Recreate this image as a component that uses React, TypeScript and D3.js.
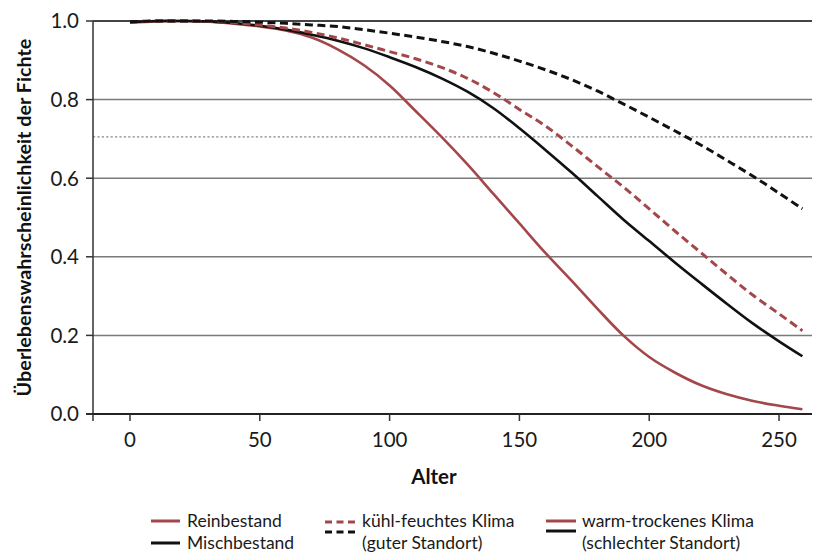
import React from "react";
import * as d3 from "d3";

const ages = [0, 10, 20, 30, 40, 50, 60, 70, 80, 90, 100, 110, 120, 130, 140, 150, 160, 170, 180, 190, 200, 210, 220, 230, 240, 250, 259];

// Reinbestand, warm-trockenes Klima (red solid)
const reinWarm = [0.996, 0.999, 1.0, 0.998, 0.993, 0.986, 0.976, 0.958, 0.928, 0.888, 0.836, 0.771, 0.705, 0.635, 0.56, 0.485, 0.41, 0.34, 0.268, 0.2, 0.145, 0.105, 0.073, 0.05, 0.033, 0.021, 0.012];
// Mischbestand, warm-trockenes Klima (black solid)
const mischWarm = [0.997, 1.0, 1.0, 0.999, 0.995, 0.988, 0.978, 0.965, 0.95, 0.931, 0.908, 0.883, 0.854, 0.82, 0.778, 0.727, 0.672, 0.615, 0.555, 0.495, 0.44, 0.385, 0.332, 0.28, 0.23, 0.185, 0.147];
// Reinbestand, kühl-feuchtes Klima (red dashed)
const reinKuehl = [0.997, 1.0, 1.0, 0.999, 0.996, 0.99, 0.982, 0.971, 0.957, 0.94, 0.922, 0.904, 0.882, 0.854, 0.818, 0.775, 0.733, 0.683, 0.63, 0.578, 0.522, 0.465, 0.41, 0.355, 0.302, 0.255, 0.212];
// Mischbestand, kühl-feuchtes Klima (black dashed)
const mischKuehl = [0.998, 1.0, 1.0, 1.0, 0.999, 0.997, 0.994, 0.99, 0.986, 0.978, 0.969, 0.959, 0.948, 0.935, 0.918, 0.898, 0.876, 0.851, 0.822, 0.789, 0.755, 0.72, 0.684, 0.645, 0.605, 0.562, 0.522];

const xTicks = [0, 50, 100, 150, 200, 250];
const yTicks = [0, 0.2, 0.4, 0.6, 0.8, 1.0];
const gridValues = [0.2, 0.4, 0.6, 0.8];
const refLine = 0.705;

const RED = "#a4474b";
const BLACK = "#111111";
const FONT = "Lato, 'Open Sans', sans-serif";

export default function App() {
  const x = d3.scaleLinear().domain([-14.25, 262.7]).range([93, 812]);
  const y = d3.scaleLinear().domain([0, 1]).range([414, 21]);
  const line = d3
    .line<number>()
    .x((_, i) => x(ages[i]))
    .y((d) => y(d))
    .curve(d3.curveCatmullRom.alpha(0.5));

  const series = [
    { vals: reinWarm, color: RED, dash: undefined, w: 2.6 },
    { vals: mischWarm, color: BLACK, dash: undefined, w: 2.6 },
    { vals: reinKuehl, color: RED, dash: "8,4.5", w: 3 },
    { vals: mischKuehl, color: BLACK, dash: "8,4.5", w: 3 },
  ];

  const [x0, x1] = x.range();

  return (
    <svg
      width={814}
      height={553}
      style={{ position: "absolute", left: 0, top: 0, background: "#fff" }}
      fontFamily={FONT}
    >
      {/* grid lines */}
      {gridValues.map((v) => (
        <line key={v} x1={x0} x2={x1} y1={y(v)} y2={y(v)} stroke="#7a7a7a" strokeWidth={1.5} />
      ))}
      <line x1={x0} x2={x1} y1={y(1)} y2={y(1)} stroke="#444" strokeWidth={2.2} />
      <line x1={x0} x2={x1} y1={y(refLine)} y2={y(refLine)} stroke="#888" strokeWidth={1.3} strokeDasharray="2.2,2.2" />

      {/* axes */}
      <line x1={x0} x2={x0} y1={y(1)} y2={y(0) + 7} stroke="#333" strokeWidth={1.5} />
      <line x1={x0 - 7} x2={x1} y1={y(0)} y2={y(0)} stroke="#222" strokeWidth={2} />
      {yTicks.map((v) => (
        <g key={v}>
          <line x1={x0 - 7} x2={x0} y1={y(v)} y2={y(v)} stroke="#333" strokeWidth={1.5} />
          <text x={79} y={y(v)} dy="0.36em" textAnchor="end" fontSize={20.5} fill="#1a1a1a">
            {v.toFixed(1)}
          </text>
        </g>
      ))}
      {xTicks.map((t) => (
        <g key={t}>
          <line x1={x(t)} x2={x(t)} y1={y(0)} y2={y(0) + 7} stroke="#333" strokeWidth={1.5} />
          <text x={x(t)} y={447} textAnchor="middle" fontSize={20.5} fill="#1a1a1a">
            {t}
          </text>
        </g>
      ))}

      {/* series */}
      {series.map((s, i) => (
        <path
          key={i}
          d={line(s.vals) || ""}
          fill="none"
          stroke={s.color}
          strokeWidth={s.w}
          strokeDasharray={s.dash}
        />
      ))}

      {/* axis titles */}
      <text x={434} y={484} textAnchor="middle" fontSize={20.5} fontWeight="bold" fill="#111">
        Alter
      </text>
      <text
        transform={`translate(31,${(y(0) + y(1)) / 2}) rotate(-90)`}
        textAnchor="middle"
        fontSize={19.8}
        fontWeight="bold"
        fill="#111"
      >
        Überlebenswahrscheinlichkeit der Fichte
      </text>

      {/* legend */}
      <g fontSize={17.5} fill="#1a1a1a">
        <line x1={151} x2={180} y1={521} y2={521} stroke={RED} strokeWidth={3} />
        <line x1={151} x2={180} y1={543} y2={543} stroke={BLACK} strokeWidth={3} />
        <text x={187} y={527}>Reinbestand</text>
        <text x={187} y={549}>Mischbestand</text>

        <line x1={325} x2={357} y1={522} y2={522} stroke={RED} strokeWidth={3} strokeDasharray="7,4.5" />
        <line x1={325} x2={357} y1={532} y2={532} stroke={BLACK} strokeWidth={3} strokeDasharray="7,4.5" />
        <text x={362} y={527}>kühl-feuchtes Klima</text>
        <text x={362} y={549}>(guter Standort)</text>

        <line x1={546} x2={576} y1={521} y2={521} stroke={RED} strokeWidth={3} />
        <line x1={546} x2={576} y1={531} y2={531} stroke={BLACK} strokeWidth={3} />
        <text x={582} y={527}>warm-trockenes Klima</text>
        <text x={582} y={549}>(schlechter Standort)</text>
      </g>
    </svg>
  );
}
